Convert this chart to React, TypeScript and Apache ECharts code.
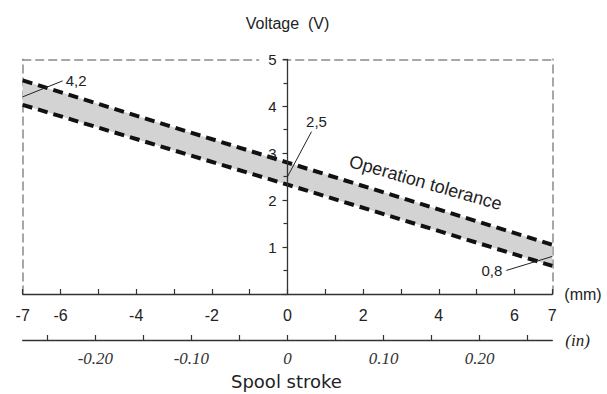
import React, { useEffect, useRef } from "react";
import * as echarts from "echarts";

// Band data (spool stroke in mm, voltage in V)
const strokeMm = [-7, 0, 7];
const upperVolt = [4.55, 2.8, 1.05];
const lowerVolt = [4.03, 2.33, 0.6];

// Annotated nominal points
const noteX = [-7, 0, 7];
const noteY = [4.2, 2.5, 0.8];
const noteText = ["4,2", "2,5", "0,8"];

// Band label
const bandLabelX = [3.65];
const bandLabelY = [2.37];
const bandLabelText = ["Operation tolerance"];

// Axis ticks / labels
const mmMin = -7;
const mmMax = 7;
const mmLabels = [-7, -6, -4, -2, 0, 2, 4, 6, 7];
const inchTicks = [-0.25, -0.2, -0.15, -0.1, -0.05, 0, 0.05, 0.1, 0.15, 0.2, 0.25];
const inchLabels = [-0.2, -0.1, 0, 0.1, 0.2];
const MM_PER_IN = 25.4;

const SANS = '"Liberation Sans", Arial, sans-serif';
const SERIF = '"Liberation Serif", "Times New Roman", serif';

const W = 607;
const GRID_LEFT = 22.7;
const GRID_RIGHT = 54.7;

export default function App() {
  const ref = useRef<HTMLDivElement>(null);
  useEffect(() => {
    document.body.style.margin = "0";
    const chart = echarts.init(ref.current!, null, { renderer: "svg" });
    const gridWidth = W - GRID_LEFT - GRID_RIGHT;
    const zeroOffset = -((0 - mmMin) / (mmMax - mmMin)) * gridWidth;
    const offsets: [number, number][] = [
      [40, -16],
      [24, -45],
      [-46, 14],
    ];
    const dashedBorder = { color: "#8a8a8a", width: 1.5, type: [8, 5] as any };
    const option: any = {
      animation: false,
      backgroundColor: "#fff",
      grid: {
        left: GRID_LEFT,
        right: GRID_RIGHT,
        top: 59.3,
        bottom: 100,
        containLabel: false,
        outerBoundsMode: "none",
      },
      title: {
        text: "Spool stroke",
        left: 231,
        top: 372,
        padding: 0,
        textStyle: { fontFamily: '"DejaVu Sans", sans-serif', fontSize: 18, fontWeight: "normal", color: "#222" },
      },
      xAxis: [
        {
          type: "value",
          min: mmMin,
          max: mmMax,
          interval: 1,
          position: "bottom",
          name: "(mm)",
          nameLocation: "end",
          nameGap: 12,
          nameTextStyle: { fontFamily: SANS, fontSize: 16, color: "#222", verticalAlign: "middle", padding: [0, 0, 6, 0] },
          axisLine: { onZero: false, lineStyle: { color: "#333", width: 1.3 } },
          axisTick: { show: true, inside: true, length: 5, lineStyle: { color: "#333", width: 1.2 } },
          axisLabel: {
            customValues: mmLabels,
            margin: 13,
            fontFamily: SANS,
            fontSize: 16,
            color: "#222",
            formatter: (v: number) => String(v),
          },
          splitLine: { show: false },
          z: 2,
        },
        {
          type: "value",
          min: mmMin / MM_PER_IN,
          max: mmMax / MM_PER_IN,
          position: "bottom",
          offset: 46,
          name: "(in)",
          nameLocation: "end",
          nameGap: 13,
          nameTextStyle: { fontFamily: SERIF, fontStyle: "italic", fontSize: 17, color: "#222" },
          axisLine: { onZero: false, lineStyle: { color: "#333", width: 1.3 } },
          axisTick: { show: true, inside: true, length: 5, customValues: inchTicks, lineStyle: { color: "#333", width: 1.2 } },
          axisLabel: {
            customValues: inchLabels,
            margin: 10,
            fontFamily: SERIF,
            fontStyle: "italic",
            fontSize: 17,
            color: "#333",
            formatter: (v: number) => (Math.abs(v) < 1e-9 ? "0" : v.toFixed(2)),
          },
          splitLine: { show: false },
        },
        {
          type: "value",
          min: mmMin,
          max: mmMax,
          position: "top",
          axisLine: { onZero: false, lineStyle: dashedBorder },
          axisTick: { show: false },
          axisLabel: { show: false },
          splitLine: { show: false },
          z: 0,
        },
      ],
      yAxis: [
        {
          type: "value",
          min: 0,
          max: 5,
          interval: 1,
          position: "left",
          offset: zeroOffset,
          name: "Voltage  (V)",
          nameLocation: "end",
          nameGap: 28,
          nameTextStyle: { fontFamily: SANS, fontSize: 16, color: "#222", align: "center" },
          axisLine: { onZero: false, lineStyle: { color: "#333", width: 1.3 } },
          axisTick: { show: true, length: 5, lineStyle: { color: "#333", width: 1.2 } },
          minorTick: { show: true, splitNumber: 2, length: 4, lineStyle: { color: "#333", width: 1.2 } },
          axisLabel: {
            margin: 5,
            formatter: (v: number) => (v === 0 ? "" : v === 5 ? `{w|${v}}` : `{n|${v}}`),
            rich: {
              w: { backgroundColor: "#fff", padding: [2, 6, 2, 9], fontFamily: SANS, fontSize: 15, color: "#222" },
              n: { padding: [2, 6, 2, 9], fontFamily: SANS, fontSize: 15, color: "#222" },
            },
          },
          splitLine: { show: false },
          z: 5,
        },
        {
          type: "value",
          min: 0,
          max: 5,
          position: "left",
          axisLine: { onZero: false, lineStyle: dashedBorder },
          axisTick: { show: false },
          axisLabel: { show: false },
          splitLine: { show: false },
          z: 0,
        },
        {
          type: "value",
          min: 0,
          max: 5,
          position: "right",
          axisLine: { onZero: false, lineStyle: dashedBorder },
          axisTick: { show: false },
          axisLabel: { show: false },
          splitLine: { show: false },
          z: 0,
        },
      ],
      series: [
        {
          type: "custom",
          coordinateSystem: "cartesian2d",
          silent: true,
          z: 1,
          data: strokeMm.map((x, i) => [x, lowerVolt[i], upperVolt[i]]),
          renderItem: (params: any, api: any) => {
            if (params.dataIndex !== 0) return null;
            const top = strokeMm.map((x, i) => api.coord([x, upperVolt[i]]));
            const bottom = strokeMm.map((x, i) => api.coord([x, lowerVolt[i]])).reverse();
            return {
              type: "polygon",
              shape: { points: top.concat(bottom) },
              style: { fill: "#d3d3d3", stroke: "none" },
            };
          },
        },
        {
          type: "line",
          data: upperVolt.map((v, i) => [strokeMm[i], v]),
          symbol: "none",
          lineStyle: { color: "#111", width: 4, type: [10, 6], cap: "butt" },
          z: 3,
        },
        {
          type: "line",
          data: lowerVolt.map((v, i) => [strokeMm[i], v]),
          symbol: "none",
          lineStyle: { color: "#111", width: 4, type: [10, 6], cap: "butt" },
          z: 3,
        },
        {
          type: "custom",
          coordinateSystem: "cartesian2d",
          clip: false,
          z: 6,
          data: noteX.map((x, i) => [x, noteY[i]]),
          renderItem: (params: any, api: any) => {
            const i = params.dataIndex;
            const p = api.coord([api.value(0), api.value(1)]);
            const o = offsets[i];
            const e = [p[0] + o[0], p[1] + o[1]];
            let tx = e[0] + 3;
            let ty = e[1];
            let align = "left";
            let va = "middle";
            if (i === 1) {
              tx = e[0] + 5;
              ty = e[1] - 3;
              align = "center";
              va = "bottom";
            } else if (i === 2) {
              tx = e[0] - 4;
              align = "right";
            }
            return {
              type: "group",
              children: [
                {
                  type: "line",
                  shape: { x1: p[0], y1: p[1], x2: e[0], y2: e[1] },
                  style: { stroke: "#222", lineWidth: 1 },
                },
                {
                  type: "text",
                  x: tx,
                  y: ty,
                  style: {
                    text: noteText[i],
                    fill: "#222",
                    fontFamily: SANS,
                    fontSize: 15,
                    align,
                    verticalAlign: va,
                  },
                },
              ],
            };
          },
        },
        {
          type: "custom",
          coordinateSystem: "cartesian2d",
          clip: false,
          z: 6,
          data: bandLabelX.map((x, i) => [x, bandLabelY[i]]),
          renderItem: (params: any, api: any) => {
            const p = api.coord([api.value(0), api.value(1)]);
            return {
              type: "text",
              x: p[0],
              y: p[1],
              rotation: (-16 * Math.PI) / 180,
              style: {
                text: bandLabelText[params.dataIndex],
                fill: "#222",
                fontFamily: SANS,
                fontSize: 18,
                align: "center",
                verticalAlign: "middle",
              },
            };
          },
        },
      ],
    };
    chart.setOption(option);
    return () => chart.dispose();
  }, []);
  return <div ref={ref} style={{ width: W, height: 394, position: "absolute", left: 0, top: 0 }} />;
}
